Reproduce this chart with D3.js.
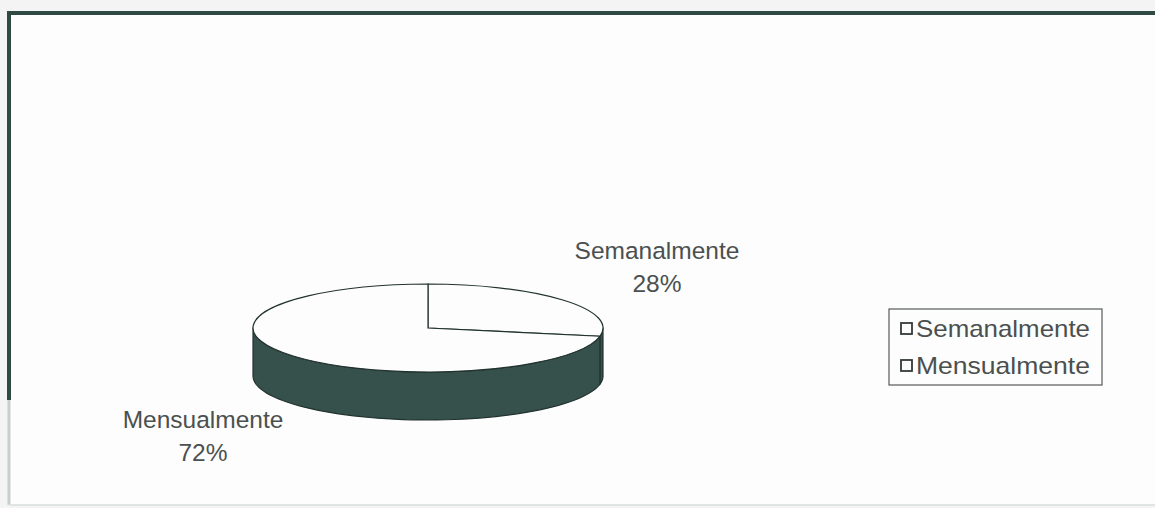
<!DOCTYPE html>
<html>
<head>
<meta charset="utf-8">
<script src="https://cdn.jsdelivr.net/npm/d3@7"></script>
<style>
  html, body { margin: 0; padding: 0; background: #f3f4f3; }
  svg { display: block; }
  text { font-family: "Liberation Sans", Arial, sans-serif; fill: #4b504f; }
</style>
</head>
<body>
<svg id="chart" width="1155" height="508"></svg>
<script>
// Frequency shares
const categories = ["Semanalmente", "Mensualmente"];
const shares = [28, 72];
const shareLabels = ["28%", "72%"];

const W = 1155, H = 508;
const svg = d3.select("#chart");

// chart area and frame
svg.append("rect").attr("x", 9).attr("y", 12).attr("width", W - 9).attr("height", H - 16)
  .attr("fill", "#fdfdfd");
svg.append("line").attr("x1", 7).attr("x2", W).attr("y1", 13).attr("y2", 13)
  .attr("stroke", "#2e4a42").attr("stroke-width", 4);
svg.append("line").attr("x1", 9).attr("x2", 9).attr("y1", 11).attr("y2", 400)
  .attr("stroke", "#2e4a42").attr("stroke-width", 4);
svg.append("line").attr("x1", 9).attr("x2", 9).attr("y1", 400).attr("y2", 505)
  .attr("stroke", "#c9cfcc").attr("stroke-width", 3);
svg.append("line").attr("x1", 9).attr("x2", W).attr("y1", 505).attr("y2", 505)
  .attr("stroke", "#dfe5e2").attr("stroke-width", 2);

// 3D pie geometry
const cx = 428, cy = 328, rx = 175, ry = 44, depth = 48;
const sideFill = "#36514b", edge = "#22332f";

const pie = d3.pie().sort(null).value(d => d.value);
const arcs = pie(categories.map((c, i) => ({ name: c, value: shares[i], label: shareLabels[i] })));

const px = a => cx + rx * Math.sin(a);
const py = (a, dy) => cy - ry * Math.cos(a) + dy;

// side walls: only the front half (from 90° to 270°) is visible
const sides = svg.append("g");
arcs.forEach(d => {
  const a0 = Math.max(d.startAngle, Math.PI / 2);
  const a1 = Math.min(d.endAngle, 3 * Math.PI / 2);
  if (a1 <= a0) return;
  const steps = 60;
  const p = d3.path();
  p.moveTo(px(a0), py(a0, 0));
  for (let i = 1; i <= steps; i++) {
    const a = a0 + (a1 - a0) * i / steps;
    p.lineTo(px(a), py(a, 0));
  }
  p.lineTo(px(a1), py(a1, depth));
  for (let i = steps - 1; i >= 0; i--) {
    const a = a0 + (a1 - a0) * i / steps;
    p.lineTo(px(a), py(a, depth));
  }
  p.closePath();
  sides.append("path").attr("d", p.toString())
    .attr("fill", sideFill).attr("stroke", edge).attr("stroke-width", 1.2)
    .attr("stroke-linejoin", "round");
});

// top faces: a circular arc squashed into the ellipse
const arc = d3.arc().innerRadius(0).outerRadius(rx);
const faces = svg.append("g").attr("transform", `translate(${cx},${cy}) scale(1,${ry / rx})`);
faces.selectAll("path").data(arcs).join("path")
  .attr("d", arc)
  .attr("fill", "#fdfdfd")
  .attr("stroke", edge)
  .attr("stroke-width", 1.2)
  .attr("vector-effect", "non-scaling-stroke");

// slice labels
const labelPos = { "Semanalmente": [657, 259], "Mensualmente": [203, 428] };
arcs.forEach(d => {
  const [lx, ly] = labelPos[d.data.name];
  const t = svg.append("text").attr("text-anchor", "middle").attr("font-size", 24.5);
  t.append("tspan").attr("x", lx).attr("y", ly).text(d.data.name);
  t.append("tspan").attr("x", lx).attr("y", ly + 33).text(d.data.label);
});

// legend
const lg = svg.append("g").attr("transform", "translate(889,309)");
lg.append("rect").attr("width", 213).attr("height", 76)
  .attr("fill", "#fdfdfd").attr("stroke", "#555b59").attr("stroke-width", 1.2);
const rows = lg.selectAll("g.row").data(categories).join("g")
  .attr("class", "row")
  .attr("transform", (d, i) => `translate(12,${14 + i * 37})`);
rows.append("rect").attr("width", 11).attr("height", 11)
  .attr("fill", "#fdfdfd").attr("stroke", "#333a38").attr("stroke-width", 1.8);
rows.append("text").attr("x", 15).attr("y", 14).attr("font-size", 24)
  .attr("textLength", 174).attr("lengthAdjust", "spacingAndGlyphs")
  .text(d => d);
</script>
</body>
</html>
